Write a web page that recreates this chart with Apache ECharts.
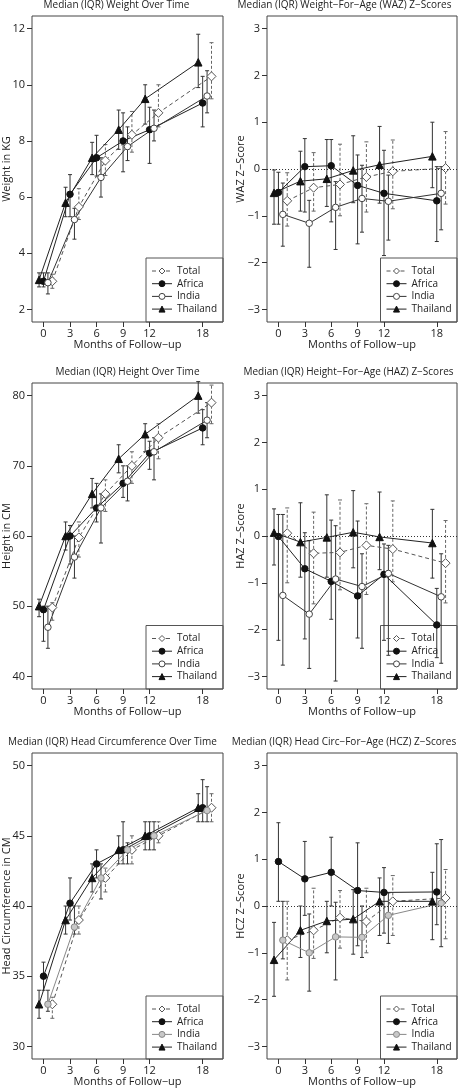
<!DOCTYPE html>
<html><head><meta charset="utf-8">
<script src="https://cdn.jsdelivr.net/npm/echarts@6/dist/echarts.min.js"></script>
<style>html,body{margin:0;padding:0;background:#fff}#c{width:458px;height:1091px}</style>
</head><body><div id="c"></div><script>
// ---------------- DATA ----------------
const months = [0, 3, 6, 9, 12, 18];
const xTickLabels = [0, 3, 6, 9, 12, 18];
const groups = ['Total', 'Africa', 'India', 'Thailand'];
// each entry: [median, Q1, Q3]
const weightTotal    = [[3.0,2.75,3.25],[5.65,5.2,6.3],[7.3,6.77,7.87],[8.22,7.6,9.05],[9.0,8.5,10.0],[10.3,9.5,11.5]];
const weightAfrica   = [[3.0,2.8,3.3],[6.1,5.3,6.8],[7.4,6.75,8.2],[8.0,6.9,9.0],[8.4,7.2,9.2],[9.35,8.5,10.3]];
const weightIndia    = [[2.95,2.55,3.3],[5.2,4.5,5.6],[6.7,6.0,7.4],[7.8,7.3,8.5],[8.45,8.0,9.1],[9.6,9.0,10.5]];
const weightThailand = [[3.05,2.8,3.3],[5.8,5.3,6.35],[7.4,6.8,7.95],[8.4,7.7,9.1],[9.5,8.6,10.0],[10.8,9.9,11.8]];

const wazTotal    = [[-0.68,-1.22,-0.08],[-0.4,-0.9,0.35],[-0.33,-1.0,0.53],[-0.17,-0.92,0.58],[-0.05,-0.85,0.62],[0.02,-0.75,0.8]];
const wazAfrica   = [[-0.5,-1.18,-0.07],[0.05,-0.92,0.65],[0.07,-1.13,0.63],[-0.35,-1.6,0.3],[-0.52,-1.85,0.4],[-0.68,-1.55,0.05]];
const wazIndia    = [[-0.97,-1.65,-0.3],[-1.16,-2.1,-0.67],[-0.82,-1.72,-0.27],[-0.63,-1.35,0.08],[-0.69,-1.52,-0.13],[-0.52,-1.3,0.05]];
const wazThailand = [[-0.51,-1.18,-0.02],[-0.26,-0.9,0.38],[-0.21,-0.8,0.63],[-0.03,-0.72,0.71],[0.09,-0.73,0.91],[0.27,-0.4,1.0]];

const heightTotal    = [[49.8,48.0,50.5],[59.8,57.0,62.0],[66.0,63.5,68.0],[70.0,67.5,72.0],[74.0,71.0,76.0],[79.0,76.0,81.5]];
const heightAfrica   = [[49.5,45.0,50.0],[60.0,56.0,61.5],[64.0,62.0,67.5],[67.5,65.5,70.0],[71.8,69.5,73.5],[75.4,73.0,78.0]];
const heightIndia    = [[47.0,44.0,50.0],[57.0,54.0,60.0],[64.0,59.0,66.0],[67.8,65.0,70.0],[72.0,68.0,74.0],[76.5,74.0,79.0]];
const heightThailand = [[50.0,48.5,51.0],[60.0,58.0,62.0],[66.0,64.0,68.2],[71.0,69.0,73.0],[74.5,72.0,76.0],[80.0,77.5,82.0]];

const hazTotal    = [[0.06,-1.0,0.6],[-0.37,-1.45,0.51],[-0.35,-1.15,0.77],[-0.2,-1.25,0.69],[-0.28,-0.98,0.75],[-0.58,-1.43,0.33]];
const hazAfrica   = [[-0.01,-2.23,0.46],[-0.7,-2.2,0.07],[-0.97,-1.78,0.34],[-1.28,-2.18,0.32],[-0.82,-2.23,-0.17],[-1.9,-2.6,-1.12]];
const hazIndia    = [[-1.27,-2.76,0.46],[-1.67,-2.83,-0.1],[-0.92,-3.1,0.22],[-1.08,-2.4,-0.38],[-0.8,-2.55,-0.2],[-1.3,-2.72,-0.38]];
const hazThailand = [[0.07,-0.62,0.58],[-0.13,-0.88,0.71],[-0.03,-0.88,0.88],[0.08,-0.68,0.97],[-0.02,-0.72,0.94],[-0.15,-0.9,0.57]];

const headTotal    = [[33.0,32.0,33.5],[39.0,38.0,40.0],[42.0,41.0,42.7],[44.0,43.0,45.0],[45.0,44.5,46.0],[47.0,46.0,48.0]];
const headAfrica   = [[35.0,34.0,36.0],[40.2,39.0,42.0],[43.0,42.0,44.0],[44.0,43.0,46.0],[45.0,44.0,46.0],[47.0,46.0,49.0]];
const headIndia    = [[33.0,32.5,34.0],[38.5,38.0,40.0],[42.0,40.5,43.0],[44.0,43.0,44.5],[45.0,44.0,46.0],[46.8,46.0,48.5]];
const headThailand = [[33.0,32.0,34.0],[39.0,38.0,40.0],[42.0,41.0,43.0],[44.0,43.0,45.0],[45.0,44.0,46.0],[47.0,46.0,48.0]];

const hczTotal    = [[-0.73,-1.58,0.1],[-0.52,-1.12,0.38],[-0.25,-0.9,0.33],[-0.33,-1.0,0.38],[0.1,-0.63,0.65],[0.17,-0.7,0.78]];
const hczAfrica   = [[0.95,0.1,1.78],[0.58,-0.2,1.38],[0.72,0.0,1.47],[0.33,-0.85,1.35],[0.29,-0.58,0.82],[0.3,-0.4,1.33]];
const hczIndia    = [[-0.73,-1.13,0.1],[-1.0,-1.82,-0.17],[-0.66,-1.58,0.08],[-0.67,-1.1,0.0],[-0.2,-0.8,0.28],[0.06,-0.87,1.42]];
const hczThailand = [[-1.15,-1.93,-0.35],[-0.52,-1.1,0.0],[-0.32,-1.0,0.1],[-0.28,-1.03,0.35],[0.1,-0.63,0.6],[0.1,-0.72,0.72]];

const zTicks = [-3, -2, -1, 0, 1, 2, 3];

// ---------------- LAYOUT / STYLE ----------------
const FONT = '"Open Sans", "DejaVu Sans", sans-serif';
const OFFSET = {Thailand: -0.5, Africa: 0, India: 0.5, Total: 1};
const panels = [
  {title:'Median (IQR) Weight Over Time', tx:116.5, ty:5, yName:'Weight in KG', ticks:[2,4,6,8,10,12], yMin:1.55, yMax:12.45, zero:false,
   d:{Total:weightTotal, Africa:weightAfrica, India:weightIndia, Thailand:weightThailand}, g:[32,16,191,306], lg:[146,258], grey:false},
  {title:'Median (IQR) Weight\u2212For\u2212Age (WAZ) Z\u2212Scores', tx:344.5, ty:5, yName:'WAZ Z\u2212Score', ticks:zTicks, yMin:-3.27, yMax:3.27, zero:true,
   d:{Total:wazTotal, Africa:wazAfrica, India:wazIndia, Thailand:wazThailand}, g:[267,16,190,306], lg:[380.5,258], grey:false},
  {title:'Median (IQR) Height Over Time', tx:127.5, ty:372.5, yName:'Height in CM', ticks:[40,50,60,70,80], yMin:38.2, yMax:81.8, zero:false,
   d:{Total:heightTotal, Africa:heightAfrica, India:heightIndia, Thailand:heightThailand}, g:[32,383,191,306], lg:[146,625.5], grey:false},
  {title:'Median (IQR) Height\u2212For\u2212Age (HAZ) Z\u2212Scores', tx:348.5, ty:372.5, yName:'HAZ Z\u2212Score', ticks:zTicks, yMin:-3.27, yMax:3.27, zero:true,
   d:{Total:hazTotal, Africa:hazAfrica, India:hazIndia, Thailand:hazThailand}, g:[267,383,190,306], lg:[380.5,625.5], grey:false},
  {title:'Median (IQR) Head Circumference Over Time', tx:112.5, ty:742.5, yName:'Head Circumference in CM', ticks:[30,35,40,45,50], yMin:29.1, yMax:50.9, zero:false,
   d:{Total:headTotal, Africa:headAfrica, India:headIndia, Thailand:headThailand}, g:[32,753,191,306], lg:[146,996], grey:true},
  {title:'Median (IQR) Head Circ\u2212For\u2212Age (HCZ) Z\u2212Scores', tx:344, ty:742.5, yName:'HCZ Z\u2212Score', ticks:zTicks, yMin:-3.27, yMax:3.27, zero:true,
   d:{Total:hczTotal, Africa:hczAfrica, India:hczIndia, Thailand:hczThailand}, g:[267,753,190,306], lg:[380.5,996], grey:true}
];

function groupStyle(g, grey) {
  if (g === 'Total') return {symbol:'diamond', size:9, item:{color:'#fff', borderColor:'#555', borderWidth:1}, line:{color:'#555', width:1, type:[4,3]}, err:'#666', dash:[3,2]};
  if (g === 'Africa') return {symbol:'circle', size:6.5, item:{color:'#111', borderColor:'#111', borderWidth:1}, line:{color:'#222', width:1, type:'solid'}, err:'#333', dash:null};
  if (g === 'India') return grey
    ? {symbol:'circle', size:6.5, item:{color:'#c8c8c8', borderColor:'#888', borderWidth:1}, line:{color:'#888', width:1, type:'solid'}, err:'#333', dash:null}
    : {symbol:'circle', size:6.5, item:{color:'#fff', borderColor:'#444', borderWidth:1}, line:{color:'#333', width:1, type:'solid'}, err:'#333', dash:null};
  return {symbol:'triangle', size:7.5, item:{color:'#111', borderColor:'#111', borderWidth:1}, line:{color:'#222', width:1, type:'solid'}, err:'#333', dash:null};
}

function errRender(color, dash) {
  return function (params, api) {
    const x = api.value(0), lo = api.value(1), hi = api.value(2);
    const a = api.coord([x, lo]), b = api.coord([x, hi]);
    const w = 2;
    return {type:'group', children:[
      {type:'line', shape:{x1:a[0], y1:a[1], x2:b[0], y2:b[1]}, style:{stroke:color, lineWidth:1, lineDash:dash}},
      {type:'line', shape:{x1:a[0]-w, y1:a[1], x2:a[0]+w, y2:a[1]}, style:{stroke:color, lineWidth:1}},
      {type:'line', shape:{x1:b[0]-w, y1:b[1], x2:b[0]+w, y2:b[1]}, style:{stroke:color, lineWidth:1}}
    ]};
  };
}

const grids = [], xAxes = [], yAxes = [], series = [], legends = [], graphics = [];
const fmtMinus = v => String(v).replace('-', '\u2212');

panels.forEach((p, k) => {
  grids.push({left:p.g[0], top:p.g[1], width:p.g[2], height:p.g[3], show:true, borderColor:'#444', borderWidth:1,
              backgroundColor:'transparent', containLabel:false, outerBoundsMode:'none'});
  xAxes.push({type:'value', gridIndex:k, min:-1.3, max:20.3, splitLine:{show:false},
    axisLine:{show:false, onZero:false},
    axisTick:{show:true, length:5, lineStyle:{color:'#333'}, customValues:xTickLabels},
    axisLabel:{fontFamily:FONT, fontSize:11, color:'#222', margin:6, customValues:xTickLabels},
    name:'Months of Follow\u2212up', nameLocation:'middle', nameGap:17, nameMoveOverlap:false,
    nameTextStyle:{fontFamily:FONT, fontSize:11, color:'#222', verticalAlign:'top'}});
  yAxes.push({type:'value', gridIndex:k, min:p.yMin, max:p.yMax, splitLine:{show:false},
    axisLine:{show:false, onZero:false},
    axisTick:{show:true, length:5, lineStyle:{color:'#333'}, customValues:p.ticks},
    axisLabel:{fontFamily:FONT, fontSize:11, color:'#222', margin:7, customValues:p.ticks, formatter:fmtMinus},
    name:p.yName, nameLocation:'middle', nameGap:p.zero ? 21 : 20, nameRotate:90, nameMoveOverlap:false,
    nameTextStyle:{fontFamily:FONT, fontSize:11, color:'#222'}});

  groups.forEach(g => {
    const st = groupStyle(g, p.grey);
    const arr = p.d[g];
    series.push({type:'custom', name:g + ' IQR', xAxisIndex:k, yAxisIndex:k, silent:true, z:2,
      encode:{x:0, y:[1,2]}, renderItem:errRender(st.err, st.dash),
      data: months.map((m, i) => [m + OFFSET[g], arr[i][1], arr[i][2]])});
    const s = {type:'line', name:g, xAxisIndex:k, yAxisIndex:k, z:3, silent:true,
      symbol:st.symbol, symbolSize:st.size, itemStyle:st.item, lineStyle:st.line,
      data: months.map((m, i) => [m + OFFSET[g], arr[i][0]])};
    if (p.zero && g === 'Total') {
      s.markLine = {silent:true, symbol:['none','none'], label:{show:false}, animation:false,
        lineStyle:{type:[1,2], color:'#333', width:1}, data:[{yAxis:0}]};
    }
    series.push(s);
  });

  legends.push({orient:'vertical', left:p.lg[0] + 5.5, top:p.lg[1] + 7, itemWidth:20, itemHeight:7.5, itemGap:0.7,
    padding:0, borderWidth:0, backgroundColor:'transparent',
    selectedMode:false, textStyle:{fontFamily:FONT, fontSize:10, color:'#222', lineHeight:12},
    data: groups.map(g => { const st = groupStyle(g, p.grey); return {name:g, itemStyle:st.item, lineStyle:st.line}; })});

  // legend frame: spans from the legend corner to the plot box's right/bottom edges
  graphics.push({type:'rect', silent:true,
    shape:{x:p.lg[0], y:p.lg[1], width:p.g[0] + p.g[2] - p.lg[0], height:p.g[1] + p.g[3] - p.lg[1]},
    style:{fill:'none', stroke:'#555', lineWidth:1}});

  graphics.push({type:'text', x:p.tx, y:p.ty, silent:true,
    style:{text:p.title, textAlign:'center', textVerticalAlign:'middle', fontFamily:FONT, fontSize:10, fill:'#222'}});
});

const chart = echarts.init(document.getElementById('c'), null, {renderer:'canvas'});
chart.setOption({animation:false, backgroundColor:'#fff', grid:grids, xAxis:xAxes, yAxis:yAxes,
  series:series, legend:legends, graphic:graphics, tooltip:{show:false}});
</script></body></html>
